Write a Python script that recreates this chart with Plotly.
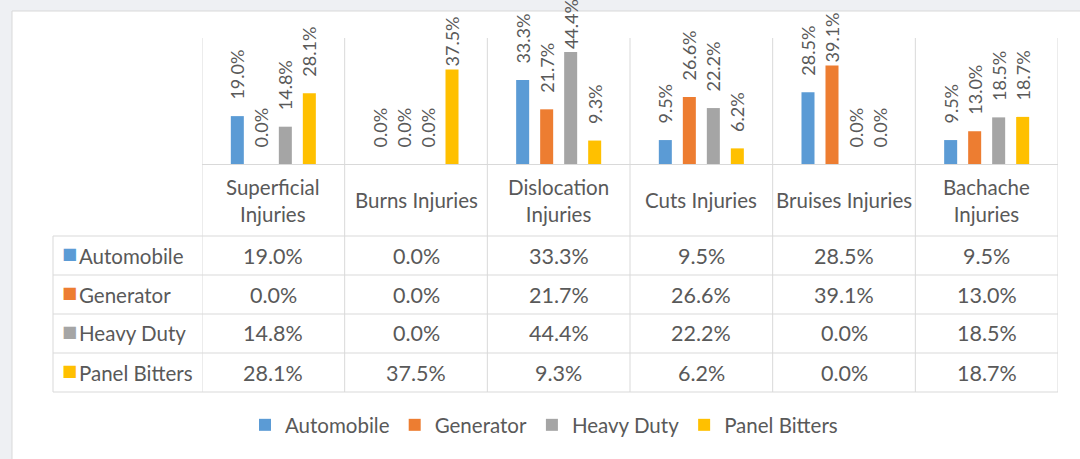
import plotly.graph_objects as go

categories = ["Superficial Injuries", "Burns Injuries", "Dislocation Injuries",
              "Cuts Injuries", "Bruises Injuries", "Bachache Injuries"]
tick_labels = ["Superficial<br>Injuries", "Burns Injuries", "Dislocation<br>Injuries",
               "Cuts Injuries", "Bruises Injuries", "Bachache<br>Injuries"]
series_names = ["Automobile", "Generator", "Heavy Duty", "Panel Bitters"]
automobile = [19.0, 0.0, 33.3, 9.5, 28.5, 9.5]
generator = [0.0, 0.0, 21.7, 26.6, 39.1, 13.0]
heavy_duty = [14.8, 0.0, 44.4, 22.2, 0.0, 18.5]
panel_bitters = [28.1, 37.5, 9.3, 6.2, 0.0, 18.7]
series_values = [automobile, generator, heavy_duty, panel_bitters]
colors = ["#5B9BD5", "#ED7D31", "#A5A5A5", "#FFC000"]

W, H = 1080, 459
FONT = "Lato"
TXT = "#595959"
GRID = "#d9d9d9"
TXT_SIZE = 20.5
NUM_SIZE = 21.5
LBL_SIZE = 18

def px_x(p):
    return p / W

def px_y(p):
    return (H - p) / H

fig = go.Figure()
for name, vals, col in zip(series_names, series_values, colors):
    fracs = [v / 100 for v in vals]
    tmpl = [("\u2003" if v < 35 else "") + "%{y:.1%}" for v in vals]
    fig.add_trace(go.Bar(
        x=categories, y=fracs, name=name, marker=dict(color=col, line=dict(width=0)),
        texttemplate=tmpl, textposition="outside", textangle=-90,
        constraintext="none", cliponaxis=False,
        textfont=dict(family=FONT, size=LBL_SIZE, color=TXT),
    ))

# ---- data table drawn with shapes + annotations ----
TABLE_LEFT, TABLE_RIGHT = 53, 1058
CAT_TOP, AXIS_Y, TABLE_TOP, ROW_H = 38, 164, 236, 39
n_rows = len(series_names)
table_bottom = TABLE_TOP + n_rows * ROW_H

shapes = [dict(type="rect", xref="paper", yref="paper", x0=px_x(12), x1=1.02,
               y0=-0.02, y1=px_y(11), fillcolor="white",
               line=dict(color=GRID, width=1), layer="below")]
for r in range(n_rows + 1):
    yy = px_y(TABLE_TOP + r * ROW_H)
    shapes.append(dict(type="line", xref="paper", yref="paper", x0=px_x(TABLE_LEFT),
                       x1=px_x(TABLE_RIGHT), y0=yy, y1=yy, line=dict(color=GRID, width=1)))
shapes.append(dict(type="line", xref="paper", yref="paper", x0=px_x(TABLE_LEFT),
                   x1=px_x(TABLE_LEFT), y0=px_y(table_bottom), y1=px_y(TABLE_TOP),
                   line=dict(color=GRID, width=1)))
for i in range(len(categories) + 1):
    shapes.append(dict(type="line", xref="x", yref="paper", x0=i - 0.5, x1=i - 0.5,
                       y0=px_y(table_bottom), y1=px_y(CAT_TOP), line=dict(color=GRID, width=1)))

annotations = []
for c, lab in zip(categories, tick_labels):
    annotations.append(dict(x=c, xref="x", yref="paper", y=px_y((AXIS_Y + TABLE_TOP) / 2),
                            yanchor="middle", text=lab, showarrow=False,
                            font=dict(family=FONT, size=TXT_SIZE, color=TXT)))
for r, (name, col, vals) in enumerate(zip(series_names, colors, series_values)):
    yc = px_y(TABLE_TOP + (r + 0.5) * ROW_H)
    annotations.append(dict(x=px_x(TABLE_LEFT + 7), xref="paper", xanchor="left",
                            y=yc, yref="paper", yanchor="middle", yshift=2, showarrow=False,
                            text="■", font=dict(family="DejaVu Sans", size=16, color=col)))
    annotations.append(dict(x=px_x(TABLE_LEFT + 24), xref="paper", xanchor="left",
                            y=yc, yref="paper", yanchor="middle", showarrow=False,
                            text=name, font=dict(family=FONT, size=TXT_SIZE, color=TXT)))
    for c, v in zip(categories, vals):
        annotations.append(dict(x=c, xref="x", y=yc, yref="paper", yanchor="middle",
                                text=f"{v:.1f}%", showarrow=False,
                                font=dict(family=FONT, size=NUM_SIZE, color=TXT)))

fig.update_layout(
    width=W, height=H, margin=dict(l=0, r=0, t=0, b=0),
    paper_bgcolor="#eef0f3", plot_bgcolor="rgba(0,0,0,0)",
    barmode="group", bargap=0.327, bargroupgap=0.458,
    xaxis=dict(domain=[px_x(202), px_x(1058)], range=[-0.5, 5.5],
               showticklabels=False, showgrid=False, zeroline=False,
               showline=True, linecolor=GRID, linewidth=1, ticks=""),
    yaxis=dict(domain=[px_y(AXIS_Y), px_y(CAT_TOP)], range=[0, 0.5], visible=False),
    legend=dict(orientation="h", x=px_x(544), xanchor="center", y=px_y(425),
                yanchor="middle", font=dict(family=FONT, size=TXT_SIZE, color=TXT),
                bgcolor="rgba(0,0,0,0)"),
    shapes=shapes, annotations=annotations, showlegend=True,
)

fig.write_html("out.html", config={"displayModeBar": False},
               post_script="document.body.style.margin='0';")
